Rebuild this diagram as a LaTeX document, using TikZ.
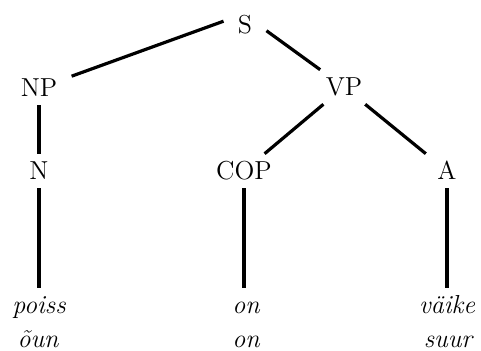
\documentclass[tikz,border=0pt]{standalone}
\usepackage{fontspec}

\begin{document}
\begin{tikzpicture}[x=0.5pt,y=-0.5pt,
    cat/.style={font=\fontsize{13}{15}\selectfont, inner xsep=7pt, inner ysep=4pt,
        text height=8.9pt, text depth=0pt},
    word/.style={cat, font=\fontsize{13}{15}\selectfont\itshape},
    branch/.style={line width=1.6pt}]
    \useasboundingbox (0,0) rectangle (481,351);

    %% Categories
    \node[cat] (S) at (245,25) {S};
    \node[cat] (NP) at (39,88) {NP};
    \node[cat] (VP) at (344,87) {VP};
    \node[cat] (N) at (39,171) {N};
    \node[cat] (COP) at (244,171) {COP};
    \node[cat] (A) at (447,171) {A};

    %% Leaves: two sentences on one tree
    \node[word] (poiss) at (39,305) {poiss};
    \node[word] (oun) at (38,339) {õun};
    \node[word] (on) at (246,305) {on};
    \node[word] (on2) at (246,339) {on};
    \node[word] (vaike) at (447,305) {väike};
    \node[word] (suur) at (448,339) {suur};

    %% Branches
    \draw[branch] (S.170) -- (NP);
    \draw[branch] (S.-15) -- (VP);
    \draw[branch] (NP) -- (N);
    \draw[branch] (VP) -- (COP);
    \draw[branch] (VP) -- (A);
    \draw[branch] (N) -- (N |- poiss.north);
    \draw[branch] (COP) -- (COP |- on.north);
    \draw[branch] (A) -- (A |- vaike.north);
\end{tikzpicture}
\end{document}
